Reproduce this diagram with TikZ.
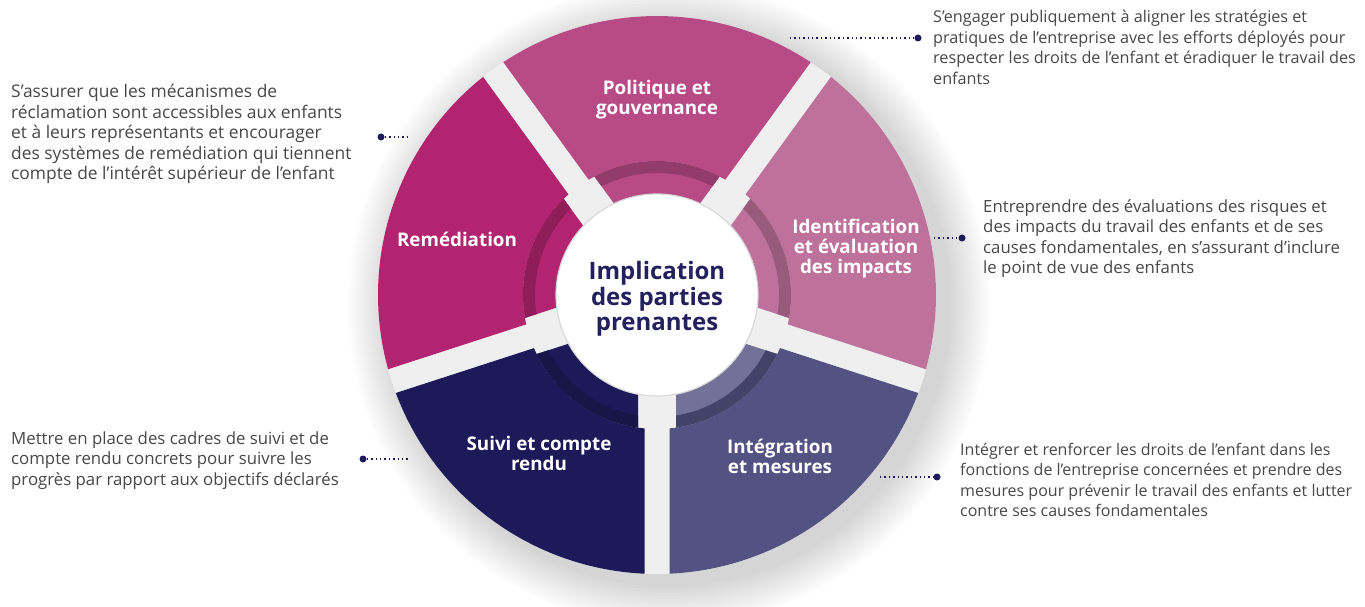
\documentclass[tikz,border=0pt]{standalone}
\usepackage{fontspec}
\setmainfont{Open Sans}
\usetikzlibrary{calc}

\definecolor{cPol}{HTML}{B84A86}
\definecolor{cRem}{HTML}{B22470}
\definecolor{cIde}{HTML}{BE729B}
\definecolor{cInt}{HTML}{545282}
\definecolor{cSui}{HTML}{1E1A5A}
\definecolor{navy}{HTML}{1E1A5C}
\definecolor{hubtext}{HTML}{24205E}
\definecolor{bodygray}{HTML}{484848}
\definecolor{gapgray}{HTML}{EFEFEF}

\tikzset{
  seglabel/.style={text=white, font=\bfseries\fontsize{18.8}{20}\selectfont, align=center, inner sep=0pt},
  hublabel/.style={text=hubtext, font=\bfseries\fontsize{24}{25.5}\selectfont, align=center, inner sep=0pt},
  desc/.style={text=bodygray, font=\fontsize{#1}{20.5}\selectfont, align=left, inner sep=0pt, anchor=base west},
  desc/.default=16.8,
  leader/.style={navy, line width=1.6pt, dash pattern=on 1.4pt off 3pt},
  leaderdot/.style={circle, fill=navy, inner sep=0pt, minimum size=7pt},
}

\begin{document}
\begin{tikzpicture}[x=1pt,y=1pt]
\useasboundingbox (0,0) rectangle (1365,606);
\fill[white] (0,0) rectangle (1365,606);

\coordinate (C) at (657,311);
% radii: outer edge, ring outer, ring inner, inner edge; half widths of the gaps
\def\Ro{279}\def\Ra{134}\def\Rb{122}\def\Rc{95}
\def\hO{12.5}\def\hI{19}

\begin{scope}[shift={(C)}]
  % soft shadow under the wheel
  \foreach \k in {1,...,14}
    \fill[black,opacity=0.012] (12,-10) circle[radius=\Ro+3*\k];
  % gap background
  \fill[gapgray] (0,0) circle[radius=\Ro];
  % the five sectors
  \foreach \b/\col/\inn in {90/cPol/cPol, 162/cRem/cRem, 234/cSui/cSui, 306/cInt/cInt!82!white, 18/cIde/cIde}{
    \pgfmathsetmacro\sa{\b-36}
    \pgfmathsetmacro\ea{\b+36}
    \pgfmathsetmacro\dO{asin(\hO/\Ro)}
    \pgfmathsetmacro\dA{asin(\hO/\Ra)}
    \pgfmathsetmacro\eA{asin(\hI/\Ra)}
    \pgfmathsetmacro\eB{asin(\hI/\Rb)}
    \pgfmathsetmacro\eC{asin(\hI/\Rc)}
    \pgfmathsetmacro\pa{\sa+\dO}\pgfmathsetmacro\pb{\ea-\dO}
    \pgfmathsetmacro\qa{\sa+\dA}\pgfmathsetmacro\qb{\ea-\dA}
    \pgfmathsetmacro\ua{\sa+\eA}\pgfmathsetmacro\ub{\ea-\eA}
    \pgfmathsetmacro\va{\sa+\eB}\pgfmathsetmacro\vb{\ea-\eB}
    \pgfmathsetmacro\wa{\sa+\eC}\pgfmathsetmacro\wb{\ea-\eC}
    % outer part
    \fill[\col] (\pa:\Ro) arc[start angle=\pa, end angle=\pb, radius=\Ro]
      -- (\qb:\Ra) arc[start angle=\qb, end angle=\qa, radius=\Ra] -- cycle;
    % inner part
    \fill[\inn] (\ua:\Ra) arc[start angle=\ua, end angle=\ub, radius=\Ra]
      -- (\wb:\Rc) arc[start angle=\wb, end angle=\wa, radius=\Rc] -- cycle;
    % darker ring band
    \fill[\col!80!black] (\ua:\Ra) arc[start angle=\ua, end angle=\ub, radius=\Ra]
      -- (\vb:\Rb) arc[start angle=\vb, end angle=\va, radius=\Rb] -- cycle;
  }
  % hub
  \fill[white] (0,0) circle[radius=101];
  \draw[black!15, line width=1.2pt] (0,0) circle[radius=101];
\end{scope}

% sector labels
\node[seglabel] (pol) at (657,506) {Politique et\\gouvernance};
\node[seglabel] (rem) at (457,367) {Remédiation};
\node[seglabel] (ide) at (856,357) {Identification\\et évaluation\\des impacts};
\node[seglabel] (sui) at (539,153) {Suivi et compte\\rendu};
\node[seglabel] (int) at (780,150) {Intégration\\et mesures};
\node[hublabel] (hub) at (657,307) {Implication\\des parties\\prenantes};

% descriptions (anchored at the baseline of their last line)
\node[desc=16.2] (d1) at (933,521.5) {S’engager publiquement à aligner les stratégies et\\pratiques de l’entreprise avec les efforts déployés pour\\respecter les droits de l’enfant et éradiquer le travail des\\enfants};
\node[desc=17.4] (d2) at (11,426) {S’assurer que les mécanismes de\\réclamation sont accessibles aux enfants\\et à leurs représentants et encourager\\des systèmes de remédiation qui tiennent\\compte de l’intérêt supérieur de l’enfant};
\node[desc] (d3) at (983,332.5) {Entreprendre des évaluations des risques et\\des impacts du travail des enfants et de ses\\causes fondamentales, en s’assurant d’inclure\\le point de vue des enfants};
\node[desc] (d4) at (11,121) {Mettre en place des cadres de suivi et de\\compte rendu concrets pour suivre les\\progrès par rapport aux objectifs déclarés};
\node[desc=16.0] (d5) at (960,89.5) {Intégrer et renforcer les droits de l’enfant dans les\\fonctions de l’entreprise concernées et prendre des\\mesures pour prévenir le travail des enfants et lutter\\contre ses causes fondamentales};

% leaders
\coordinate (l1) at (790,568);
\node[leaderdot] (p1) at (918,568) {};
\draw[leader] (l1) -- (p1);
\node[leaderdot] (p2) at (381,469) {};
\coordinate (l2) at (410,469);
\draw[leader] (p2) -- (l2);
\coordinate (l3) at (934,368);
\node[leaderdot] (p3) at (962,368) {};
\draw[leader] (l3) -- (p3);
\node[leaderdot] (p4) at (363,147) {};
\coordinate (l4) at (410,147);
\draw[leader] (p4) -- (l4);
\coordinate (l5) at (880,129);
\node[leaderdot] (p5) at (937,129) {};
\draw[leader] (l5) -- (p5);
\end{tikzpicture}
\end{document}
